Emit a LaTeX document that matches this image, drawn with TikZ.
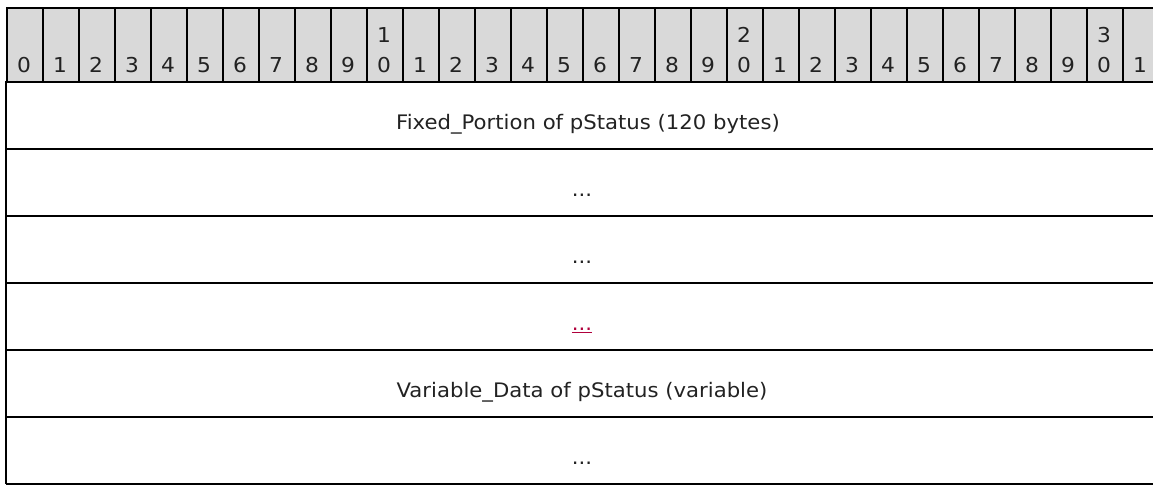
\documentclass[tikz,border=0pt]{standalone}
\usepackage{fontspec}
\setmainfont[FakeStretch=1.06]{DejaVu Sans}
\definecolor{hdrgray}{HTML}{D9D9D9}
\definecolor{linkred}{HTML}{B0003C}
\definecolor{txt}{HTML}{222222}
\tikzset{
  cell/.style={draw=black, line width=2pt, fill=hdrgray, minimum width=36pt, minimum height=74pt, inner sep=0pt, anchor=north west},
  digit/.style={font=\fontsize{20.5}{24}\selectfont, text=txt, anchor=base, inner sep=0pt},
  rowtext/.style={font=\fontsize{20}{24}\selectfont, text=txt, anchor=base, inner sep=0pt},
  rule/.style={line width=2pt, black},
}
\begin{document}
\begin{tikzpicture}[x=1pt,y=1pt]
\useasboundingbox (0,0) rectangle (1153,-485);
\clip (0,0) rectangle (1153,-485);
% header cells
\foreach \i in {0,...,31} {
  \pgfmathtruncatemacro{\u}{mod(\i,10)}
  \pgfmathtruncatemacro{\t}{div(\i,10)}
  \node[cell] (h\i) at ({6+36*\i},-7) {};
  \node[digit] (d\i) at ({24+36*\i},-72.7) {\u};
  \ifnum\u=0 \ifnum\i>0
    \node[digit] (e\i) at ({24+36*\i},-42.7) {\t};
  \fi\fi
}
% rows
\coordinate (L0) at (6,-81);
\coordinate (L6) at (6,-484);
\draw[rule] (L0) -- (L6);
\foreach \y [count=\k] in {149,216,283,350,417,484} {
  \coordinate (a\k) at (6,-\y);
  \coordinate (b\k) at (1160,-\y);
  \draw[rule] (a\k) -- (b\k);
}
\node[rowtext] (r1) at (588,-129) {Fixed\_Portion of pStatus (120 bytes)};
\node[rowtext] (r2) at (582,-196.5) {...};
\node[rowtext] (r3) at (582,-263.5) {...};
\node[rowtext, text=linkred] (r4) at (582,-330.5) {\underline{...}};
\node[rowtext] (r5) at (582,-397.5) {Variable\_Data of pStatus (variable)};
\node[rowtext] (r6) at (582,-464.5) {...};
\end{tikzpicture}
\end{document}
